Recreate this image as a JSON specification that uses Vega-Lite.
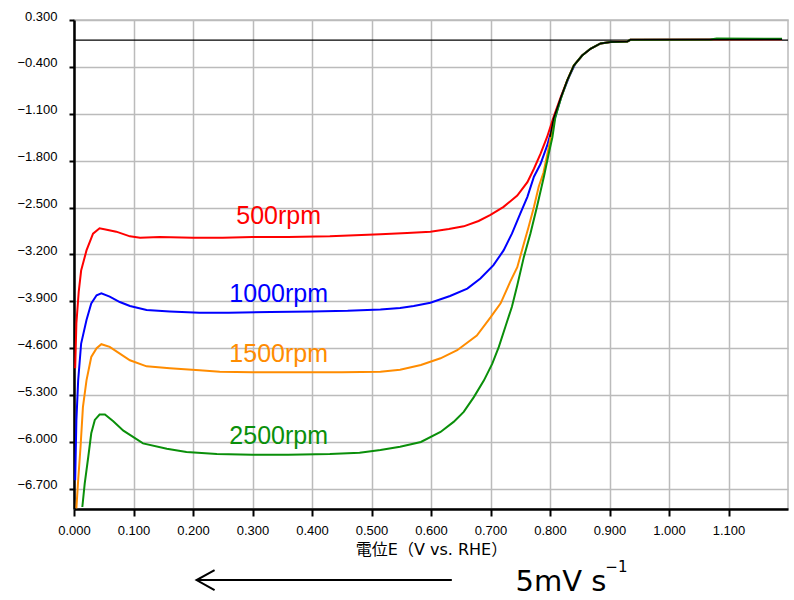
{
  "$schema": "https://vega.github.io/schema/vega-lite/v6.json",
  "width": 714,
  "height": 489,
  "autosize": {"type": "none"},
  "padding": {"left": 74, "top": 20, "right": 6, "bottom": 91},
  "background": "white",
  "config": {
    "view": {"stroke": "#bbbbbb", "strokeWidth": 1.5},
    "font": "Liberation Sans"
  },
  "datasets": {
    "curves": [
      {"series": "500rpm", "E": 0.002, "I": -4.90},
      {"series": "500rpm", "E": 0.004, "I": -4.23},
      {"series": "500rpm", "E": 0.008, "I": -3.75},
      {"series": "500rpm", "E": 0.012, "I": -3.44},
      {"series": "500rpm", "E": 0.021, "I": -3.14},
      {"series": "500rpm", "E": 0.032, "I": -2.89},
      {"series": "500rpm", "E": 0.043, "I": -2.81},
      {"series": "500rpm", "E": 0.055, "I": -2.83},
      {"series": "500rpm", "E": 0.071, "I": -2.86},
      {"series": "500rpm", "E": 0.094, "I": -2.93},
      {"series": "500rpm", "E": 0.111, "I": -2.95},
      {"series": "500rpm", "E": 0.144, "I": -2.94},
      {"series": "500rpm", "E": 0.200, "I": -2.95},
      {"series": "500rpm", "E": 0.250, "I": -2.95},
      {"series": "500rpm", "E": 0.300, "I": -2.94},
      {"series": "500rpm", "E": 0.360, "I": -2.94},
      {"series": "500rpm", "E": 0.430, "I": -2.93},
      {"series": "500rpm", "E": 0.515, "I": -2.90},
      {"series": "500rpm", "E": 0.560, "I": -2.88},
      {"series": "500rpm", "E": 0.599, "I": -2.86},
      {"series": "500rpm", "E": 0.630, "I": -2.82},
      {"series": "500rpm", "E": 0.655, "I": -2.78},
      {"series": "500rpm", "E": 0.680, "I": -2.70},
      {"series": "500rpm", "E": 0.700, "I": -2.61},
      {"series": "500rpm", "E": 0.722, "I": -2.49},
      {"series": "500rpm", "E": 0.745, "I": -2.32},
      {"series": "500rpm", "E": 0.762, "I": -2.12},
      {"series": "500rpm", "E": 0.773, "I": -1.92},
      {"series": "500rpm", "E": 0.784, "I": -1.70},
      {"series": "500rpm", "E": 0.795, "I": -1.45},
      {"series": "500rpm", "E": 0.806, "I": -1.15},
      {"series": "500rpm", "E": 0.818, "I": -0.85},
      {"series": "500rpm", "E": 0.829, "I": -0.60},
      {"series": "500rpm", "E": 0.840, "I": -0.38},
      {"series": "500rpm", "E": 0.854, "I": -0.23},
      {"series": "500rpm", "E": 0.868, "I": -0.13},
      {"series": "500rpm", "E": 0.885, "I": -0.05},
      {"series": "500rpm", "E": 0.902, "I": -0.03},
      {"series": "500rpm", "E": 0.930, "I": -0.02},
      {"series": "500rpm", "E": 0.935, "I": 0.005},
      {"series": "500rpm", "E": 1.190, "I": 0.01},

      {"series": "1000rpm", "E": 0.002, "I": -6.57},
      {"series": "1000rpm", "E": 0.004, "I": -5.68},
      {"series": "1000rpm", "E": 0.007, "I": -5.08},
      {"series": "1000rpm", "E": 0.012, "I": -4.53},
      {"series": "1000rpm", "E": 0.021, "I": -4.18},
      {"series": "1000rpm", "E": 0.029, "I": -3.93},
      {"series": "1000rpm", "E": 0.038, "I": -3.81},
      {"series": "1000rpm", "E": 0.046, "I": -3.78},
      {"series": "1000rpm", "E": 0.060, "I": -3.83},
      {"series": "1000rpm", "E": 0.077, "I": -3.91},
      {"series": "1000rpm", "E": 0.094, "I": -3.97},
      {"series": "1000rpm", "E": 0.122, "I": -4.03},
      {"series": "1000rpm", "E": 0.161, "I": -4.05},
      {"series": "1000rpm", "E": 0.211, "I": -4.07},
      {"series": "1000rpm", "E": 0.260, "I": -4.07},
      {"series": "1000rpm", "E": 0.330, "I": -4.06},
      {"series": "1000rpm", "E": 0.400, "I": -4.05},
      {"series": "1000rpm", "E": 0.460, "I": -4.04},
      {"series": "1000rpm", "E": 0.515, "I": -4.02},
      {"series": "1000rpm", "E": 0.548, "I": -4.00},
      {"series": "1000rpm", "E": 0.571, "I": -3.97},
      {"series": "1000rpm", "E": 0.599, "I": -3.92},
      {"series": "1000rpm", "E": 0.632, "I": -3.82},
      {"series": "1000rpm", "E": 0.661, "I": -3.71},
      {"series": "1000rpm", "E": 0.683, "I": -3.56},
      {"series": "1000rpm", "E": 0.705, "I": -3.36},
      {"series": "1000rpm", "E": 0.722, "I": -3.14},
      {"series": "1000rpm", "E": 0.736, "I": -2.89},
      {"series": "1000rpm", "E": 0.750, "I": -2.59},
      {"series": "1000rpm", "E": 0.762, "I": -2.34},
      {"series": "1000rpm", "E": 0.773, "I": -2.04},
      {"series": "1000rpm", "E": 0.784, "I": -1.85},
      {"series": "1000rpm", "E": 0.795, "I": -1.58},
      {"series": "1000rpm", "E": 0.804, "I": -1.30},
      {"series": "1000rpm", "E": 0.812, "I": -1.05},
      {"series": "1000rpm", "E": 0.820, "I": -0.82},
      {"series": "1000rpm", "E": 0.832, "I": -0.55},
      {"series": "1000rpm", "E": 0.842, "I": -0.36},
      {"series": "1000rpm", "E": 0.854, "I": -0.23},
      {"series": "1000rpm", "E": 0.868, "I": -0.13},
      {"series": "1000rpm", "E": 0.885, "I": -0.05},
      {"series": "1000rpm", "E": 0.902, "I": -0.03},
      {"series": "1000rpm", "E": 0.930, "I": -0.02},
      {"series": "1000rpm", "E": 0.935, "I": 0.005},
      {"series": "1000rpm", "E": 1.190, "I": 0.01},

      {"series": "1500rpm", "E": 0.004, "I": -6.99},
      {"series": "1500rpm", "E": 0.007, "I": -6.57},
      {"series": "1500rpm", "E": 0.011, "I": -6.07},
      {"series": "1500rpm", "E": 0.015, "I": -5.48},
      {"series": "1500rpm", "E": 0.021, "I": -5.08},
      {"series": "1500rpm", "E": 0.029, "I": -4.73},
      {"series": "1500rpm", "E": 0.038, "I": -4.60},
      {"series": "1500rpm", "E": 0.046, "I": -4.54},
      {"series": "1500rpm", "E": 0.060, "I": -4.58},
      {"series": "1500rpm", "E": 0.077, "I": -4.68},
      {"series": "1500rpm", "E": 0.094, "I": -4.78},
      {"series": "1500rpm", "E": 0.122, "I": -4.87},
      {"series": "1500rpm", "E": 0.161, "I": -4.90},
      {"series": "1500rpm", "E": 0.211, "I": -4.93},
      {"series": "1500rpm", "E": 0.245, "I": -4.95},
      {"series": "1500rpm", "E": 0.300, "I": -4.96},
      {"series": "1500rpm", "E": 0.380, "I": -4.96},
      {"series": "1500rpm", "E": 0.450, "I": -4.96},
      {"series": "1500rpm", "E": 0.515, "I": -4.95},
      {"series": "1500rpm", "E": 0.548, "I": -4.92},
      {"series": "1500rpm", "E": 0.583, "I": -4.85},
      {"series": "1500rpm", "E": 0.616, "I": -4.75},
      {"series": "1500rpm", "E": 0.644, "I": -4.63},
      {"series": "1500rpm", "E": 0.677, "I": -4.41},
      {"series": "1500rpm", "E": 0.700, "I": -4.14},
      {"series": "1500rpm", "E": 0.717, "I": -3.93},
      {"series": "1500rpm", "E": 0.733, "I": -3.61},
      {"series": "1500rpm", "E": 0.745, "I": -3.39},
      {"series": "1500rpm", "E": 0.756, "I": -3.04},
      {"series": "1500rpm", "E": 0.764, "I": -2.79},
      {"series": "1500rpm", "E": 0.773, "I": -2.49},
      {"series": "1500rpm", "E": 0.781, "I": -2.19},
      {"series": "1500rpm", "E": 0.789, "I": -1.98},
      {"series": "1500rpm", "E": 0.798, "I": -1.60},
      {"series": "1500rpm", "E": 0.806, "I": -1.20},
      {"series": "1500rpm", "E": 0.815, "I": -0.95},
      {"series": "1500rpm", "E": 0.829, "I": -0.60},
      {"series": "1500rpm", "E": 0.840, "I": -0.38},
      {"series": "1500rpm", "E": 0.854, "I": -0.23},
      {"series": "1500rpm", "E": 0.868, "I": -0.13},
      {"series": "1500rpm", "E": 0.885, "I": -0.05},
      {"series": "1500rpm", "E": 0.902, "I": -0.03},
      {"series": "1500rpm", "E": 0.930, "I": -0.02},
      {"series": "1500rpm", "E": 0.935, "I": 0.005},
      {"series": "1500rpm", "E": 1.190, "I": 0.01},

      {"series": "2500rpm", "E": 0.014, "I": -6.97},
      {"series": "2500rpm", "E": 0.018, "I": -6.62},
      {"series": "2500rpm", "E": 0.024, "I": -6.22},
      {"series": "2500rpm", "E": 0.029, "I": -5.87},
      {"series": "2500rpm", "E": 0.035, "I": -5.67},
      {"series": "2500rpm", "E": 0.043, "I": -5.59},
      {"series": "2500rpm", "E": 0.052, "I": -5.59},
      {"series": "2500rpm", "E": 0.066, "I": -5.69},
      {"series": "2500rpm", "E": 0.083, "I": -5.83},
      {"series": "2500rpm", "E": 0.116, "I": -6.02},
      {"series": "2500rpm", "E": 0.156, "I": -6.10},
      {"series": "2500rpm", "E": 0.189, "I": -6.15},
      {"series": "2500rpm", "E": 0.240, "I": -6.18},
      {"series": "2500rpm", "E": 0.300, "I": -6.19},
      {"series": "2500rpm", "E": 0.360, "I": -6.19},
      {"series": "2500rpm", "E": 0.430, "I": -6.18},
      {"series": "2500rpm", "E": 0.480, "I": -6.16},
      {"series": "2500rpm", "E": 0.515, "I": -6.12},
      {"series": "2500rpm", "E": 0.548, "I": -6.07},
      {"series": "2500rpm", "E": 0.583, "I": -6.00},
      {"series": "2500rpm", "E": 0.616, "I": -5.85},
      {"series": "2500rpm", "E": 0.638, "I": -5.70},
      {"series": "2500rpm", "E": 0.655, "I": -5.55},
      {"series": "2500rpm", "E": 0.672, "I": -5.33},
      {"series": "2500rpm", "E": 0.689, "I": -5.08},
      {"series": "2500rpm", "E": 0.703, "I": -4.83},
      {"series": "2500rpm", "E": 0.714, "I": -4.58},
      {"series": "2500rpm", "E": 0.725, "I": -4.28},
      {"series": "2500rpm", "E": 0.736, "I": -3.98},
      {"series": "2500rpm", "E": 0.745, "I": -3.66},
      {"series": "2500rpm", "E": 0.756, "I": -3.24},
      {"series": "2500rpm", "E": 0.767, "I": -2.89},
      {"series": "2500rpm", "E": 0.778, "I": -2.49},
      {"series": "2500rpm", "E": 0.790, "I": -2.03},
      {"series": "2500rpm", "E": 0.798, "I": -1.69},
      {"series": "2500rpm", "E": 0.804, "I": -1.45},
      {"series": "2500rpm", "E": 0.809, "I": -1.15},
      {"series": "2500rpm", "E": 0.818, "I": -0.88},
      {"series": "2500rpm", "E": 0.829, "I": -0.60},
      {"series": "2500rpm", "E": 0.840, "I": -0.38},
      {"series": "2500rpm", "E": 0.854, "I": -0.23},
      {"series": "2500rpm", "E": 0.868, "I": -0.13},
      {"series": "2500rpm", "E": 0.885, "I": -0.05},
      {"series": "2500rpm", "E": 0.902, "I": -0.03},
      {"series": "2500rpm", "E": 0.930, "I": -0.02},
      {"series": "2500rpm", "E": 0.935, "I": 0.005},
      {"series": "2500rpm", "E": 1.070, "I": 0.01},
      {"series": "2500rpm", "E": 1.080, "I": 0.025},
      {"series": "2500rpm", "E": 1.190, "I": 0.02}
    ],
    "base": [
      {"E": 0.800, "I": -1.45},
      {"E": 0.806, "I": -1.17},
      {"E": 0.818, "I": -0.86},
      {"E": 0.829, "I": -0.60},
      {"E": 0.840, "I": -0.38},
      {"E": 0.854, "I": -0.23},
      {"E": 0.868, "I": -0.13},
      {"E": 0.885, "I": -0.05},
      {"E": 0.902, "I": -0.03},
      {"E": 0.930, "I": -0.02},
      {"E": 0.935, "I": 0.005},
      {"E": 1.190, "I": 0.01}
    ],
    "zero": [{"I": 0}],
    "labels": [
      {"series": "500rpm", "E": 0.344, "I": -2.75},
      {"series": "1000rpm", "E": 0.344, "I": -3.91},
      {"series": "1500rpm", "E": 0.344, "I": -4.80},
      {"series": "2500rpm", "E": 0.344, "I": -6.03}
    ],
    "arrow": [{"E": 0.206, "E2": 0.635, "I": -8.06}],
    "rate": [{"E": 0.742, "I": -8.23, "text": "5mV s"}],
    "rateExp": [{"E": 0.893, "I": -7.94, "text": "−1"}]
  },
  "layer": [
    {
      "data": {"name": "zero"},
      "mark": {"type": "rule", "color": "black", "strokeWidth": 1.2},
      "encoding": {
        "y": {
          "field": "I",
          "type": "quantitative",
          "scale": {"domain": [-7.0, 0.3], "nice": false, "zero": false},
          "axis": {
            "values": [0.3, -0.4, -1.1, -1.8, -2.5, -3.2, -3.9, -4.6, -5.3, -6.0, -6.7],
            "format": ".3f",
            "title": null,
            "grid": true,
            "gridColor": "#bbbbbb",
            "gridWidth": 1.5,
            "domainColor": "black",
            "domainWidth": 2.5,
            "tickColor": "black",
            "tickWidth": 2,
            "tickSize": 5,
            "labelPadding": 12,
            "labelFont": "Liberation Sans",
            "labelFontSize": 13,
            "labelColor": "black",
            "labelBaseline": "alphabetic",
            "labelFlush": false
          }
        }
      }
    },
    {
      "data": {"name": "curves"},
      "mark": {"type": "line", "strokeWidth": 2, "clip": true},
      "encoding": {
        "x": {
          "field": "E",
          "type": "quantitative",
          "scale": {"domain": [0, 1.2], "nice": false, "zero": false},
          "axis": {
            "values": [0, 0.1, 0.2, 0.3, 0.4, 0.5, 0.6, 0.7, 0.8, 0.9, 1.0, 1.1],
            "format": ".3f",
            "title": "電位E（V vs. RHE）",
            "titleFont": "DejaVu Sans, Noto Sans CJK JP",
            "titleFontSize": 16,
            "titleFontWeight": "normal",
            "titleColor": "black",
            "titlePadding": 4,
            "grid": true,
            "gridColor": "#bbbbbb",
            "gridWidth": 1.5,
            "domainColor": "black",
            "domainWidth": 2.5,
            "tickColor": "black",
            "tickWidth": 2,
            "tickSize": 7,
            "labelPadding": 8,
            "labelFont": "Liberation Sans",
            "labelFontSize": 13,
            "labelColor": "black",
            "labelFlush": false
          }
        },
        "y": {"field": "I", "type": "quantitative"},
        "color": {
          "field": "series",
          "type": "nominal",
          "scale": {
            "domain": ["500rpm", "1000rpm", "1500rpm", "2500rpm"],
            "range": ["#ff0000", "#0000ff", "#ff8c00", "#0a8f0a"]
          },
          "legend": null
        }
      }
    },
    {
      "data": {"name": "base"},
      "mark": {"type": "line", "strokeWidth": 1.5, "color": "black", "clip": true},
      "encoding": {
        "x": {"field": "E", "type": "quantitative"},
        "y": {"field": "I", "type": "quantitative"}
      }
    },
    {
      "data": {"name": "labels"},
      "mark": {"type": "text", "font": "Liberation Sans", "fontSize": 25, "align": "center", "baseline": "alphabetic"},
      "encoding": {
        "x": {"field": "E", "type": "quantitative"},
        "y": {"field": "I", "type": "quantitative"},
        "text": {"field": "series"},
        "color": {"field": "series", "type": "nominal", "legend": null}
      }
    },
    {
      "data": {"name": "arrow"},
      "mark": {"type": "rule", "color": "black", "strokeWidth": 2},
      "encoding": {
        "x": {"field": "E", "type": "quantitative"},
        "x2": {"field": "E2"},
        "y": {"field": "I", "type": "quantitative"}
      }
    },
    {
      "data": {"name": "arrow"},
      "mark": {"type": "point", "shape": "M1.8,-1L0,0L1.8,1", "size": 400, "filled": false, "color": "black", "strokeWidth": 2, "opacity": 1},
      "encoding": {
        "x": {"field": "E", "type": "quantitative"},
        "y": {"field": "I", "type": "quantitative"}
      }
    },
    {
      "data": {"name": "rate"},
      "mark": {"type": "text", "font": "DejaVu Sans", "fontSize": 29, "align": "left", "baseline": "alphabetic", "color": "black"},
      "encoding": {
        "x": {"field": "E", "type": "quantitative"},
        "y": {"field": "I", "type": "quantitative"},
        "text": {"field": "text"}
      }
    },
    {
      "data": {"name": "rateExp"},
      "mark": {"type": "text", "font": "DejaVu Sans", "fontSize": 15, "align": "left", "baseline": "alphabetic", "color": "black"},
      "encoding": {
        "x": {"field": "E", "type": "quantitative"},
        "y": {"field": "I", "type": "quantitative"},
        "text": {"field": "text"}
      }
    }
  ]
}
